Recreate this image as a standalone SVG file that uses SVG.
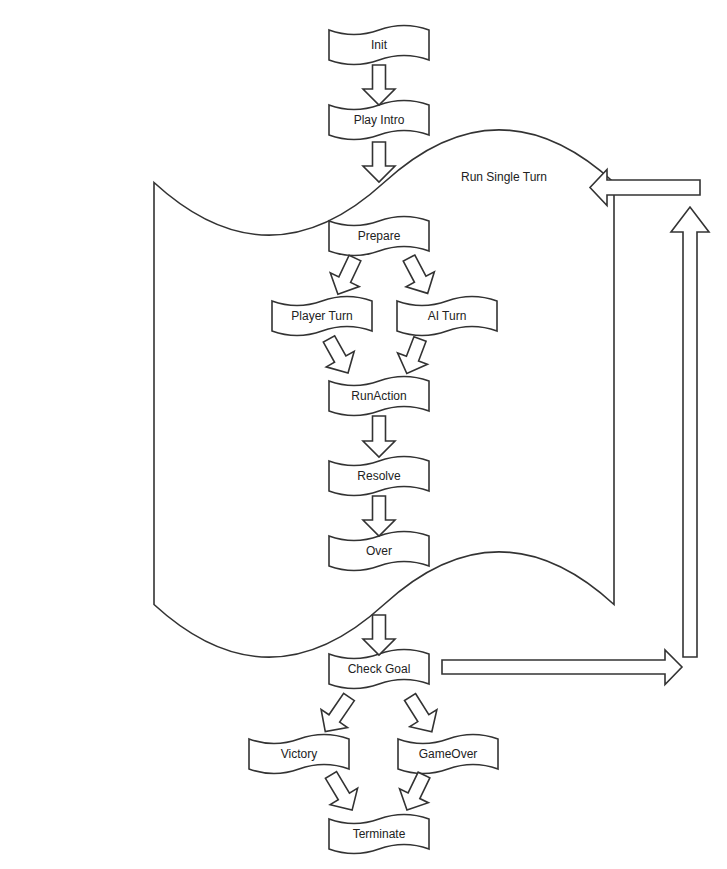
<svg xmlns="http://www.w3.org/2000/svg" xmlns:xlink="http://www.w3.org/1999/xlink" width="727" height="869" viewBox="0 0 727 869">
<style>
.shape{fill:#fff;stroke:#333;stroke-width:1.6;stroke-linejoin:miter}
.arrow{fill:#fff;stroke:#333;stroke-width:1.6;stroke-linejoin:miter}
.lbl{font-family:"Liberation Sans",Arial,Helvetica,sans-serif;font-size:12px;fill:#222;text-anchor:middle}
</style>
<defs>
<path id="tape" d="M0,5 Q25,14 50,5 Q75,-4 100,5 L100,35 Q75,26 50,35 Q25,44 0,35 Z"/>
</defs>
<rect width="727" height="869" fill="#fff"/>
<g id="run-single-turn">
<path class="shape" d="M154,182.5 Q269,287.8 384,182.5 Q499,77.2 614,182.5 L614,604.5 Q499,499.2 384,604.5 Q269,709.8 154,604.5 Z"/>
<text class="lbl" x="504" y="181">Run Single Turn</text>
</g>
<g id="init"><use xlink:href="#tape" class="shape" x="329" y="25"/><text class="lbl" x="379" y="49">Init</text></g>
<g id="play-intro"><use xlink:href="#tape" class="shape" x="329" y="100"/><text class="lbl" x="379" y="124">Play Intro</text></g>
<g id="prepare"><use xlink:href="#tape" class="shape" x="329" y="216"/><text class="lbl" x="379" y="240">Prepare</text></g>
<g id="player-turn"><use xlink:href="#tape" class="shape" x="272" y="296"/><text class="lbl" x="322" y="320">Player Turn</text></g>
<g id="ai-turn"><use xlink:href="#tape" class="shape" x="397" y="296"/><text class="lbl" x="447" y="320">AI Turn</text></g>
<g id="runaction"><use xlink:href="#tape" class="shape" x="329" y="376"/><text class="lbl" x="379" y="400">RunAction</text></g>
<g id="resolve"><use xlink:href="#tape" class="shape" x="329" y="456"/><text class="lbl" x="379" y="480">Resolve</text></g>
<g id="over"><use xlink:href="#tape" class="shape" x="329" y="531"/><text class="lbl" x="379" y="555">Over</text></g>
<g id="check-goal"><use xlink:href="#tape" class="shape" x="329" y="649"/><text class="lbl" x="379" y="673">Check Goal</text></g>
<g id="victory"><use xlink:href="#tape" class="shape" x="249" y="734"/><text class="lbl" x="299" y="758">Victory</text></g>
<g id="gameover"><use xlink:href="#tape" class="shape" x="398" y="734"/><text class="lbl" x="448" y="758">GameOver</text></g>
<g id="terminate"><use xlink:href="#tape" class="shape" x="329" y="814"/><text class="lbl" x="379" y="838">Terminate</text></g>
<g id="connectors">
<path class="arrow" transform="translate(379,65) rotate(90)" d="M0,-6.5 H24 V-16 L40,0 L24,16 V6.5 H0 Z"/>
<path class="arrow" transform="translate(379,142) rotate(90)" d="M0,-6.5 H24 V-16 L40,0 L24,16 V6.5 H0 Z"/>
<path class="arrow" transform="translate(355,258) rotate(115.3)" d="M0,-6.5 H24 V-16 L40,0 L24,16 V6.5 H0 Z"/>
<path class="arrow" transform="translate(409,258) rotate(62.2)" d="M0,-6.5 H24 V-16 L40,0 L24,16 V6.5 H0 Z"/>
<path class="arrow" transform="translate(329,339) rotate(60.8)" d="M0,-6.5 H23 V-16 L39,0 L23,16 V6.5 H0 Z"/>
<path class="arrow" transform="translate(420,339) rotate(110.9)" d="M0,-6.5 H21 V-16 L37,0 L21,16 V6.5 H0 Z"/>
<path class="arrow" transform="translate(379,416) rotate(90)" d="M0,-6.5 H25 V-16 L41,0 L25,16 V6.5 H0 Z"/>
<path class="arrow" transform="translate(379,496) rotate(90)" d="M0,-6.5 H24 V-16 L40,0 L24,16 V6.5 H0 Z"/>
<path class="arrow" transform="translate(379,615) rotate(90)" d="M0,-6.5 H24 V-16 L40,0 L24,16 V6.5 H0 Z"/>
<path class="arrow" transform="translate(349,697) rotate(124.4)" d="M0,-6.5 H26 V-16 L42,0 L26,16 V6.5 H0 Z"/>
<path class="arrow" transform="translate(410,697) rotate(57.8)" d="M0,-6.5 H25 V-16 L41,0 L25,16 V6.5 H0 Z"/>
<path class="arrow" transform="translate(331,775) rotate(59)" d="M0,-6.5 H25 V-16 L41,0 L25,16 V6.5 H0 Z"/>
<path class="arrow" transform="translate(424,775) rotate(115.9)" d="M0,-6.5 H23 V-16 L39,0 L23,16 V6.5 H0 Z"/>
<path class="arrow" d="M442,660 H665 V650 L682,667 L665,684.5 V674 H442 Z"/>
<path class="arrow" d="M683,657 V232 H671 L690,207 L709,232 H697 V657 Z"/>
<path class="arrow" d="M700,180 H607 V169.5 L590,187.5 L607,205.5 V195 H700 Z"/>
</g>
</svg>
